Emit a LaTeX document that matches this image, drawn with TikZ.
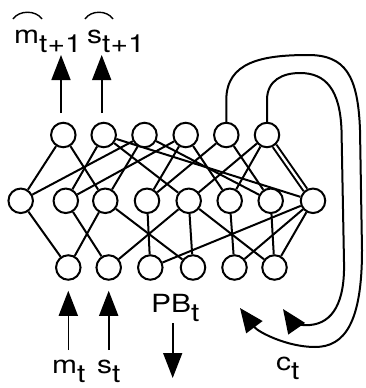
\documentclass[tikz,border=0pt]{standalone}
\usepackage{fontspec}
\setmainfont{TeX Gyre Heros}
\newfontfamily\labelfont[FakeStretch=1.2]{TeX Gyre Heros}
\usetikzlibrary{arrows.meta}
\pgfdeclarelayer{wires}
\pgfsetlayers{wires,main}
\newcommand\subdrop[1]{\raisebox{-9pt}{#1}}

\begin{document}
\begin{tikzpicture}[x=1pt,y=-1pt,
  unit/.style={circle,draw,fill=white,line width=2pt,minimum size=24.5pt,inner sep=0pt},
  link/.style={line width=2pt},
  sig/.style={line width=1.6pt,-{Triangle[length=25pt,width=19pt]}},
  lbl/.style={inner sep=0pt,anchor=base west,font=\labelfont\fontsize{25}{30}\selectfont},
  hatarc/.style={line width=1.4pt}]
\useasboundingbox (0,0) rectangle (366,388);

% output layer
\foreach \n/\x in {1/63.3,2/103.7,3/144.5,4/185.7,5/226.3,6/267}
  \node[unit] (T\n) at (\x,135) {};
% hidden layer
\foreach \n/\x in {1/20.7,2/65.8,3/105.3,4/147,5/188.7,6/229.7,7/270.7,8/313}
  \node[unit] (M\n) at (\x,200.8) {};
% input layer
\foreach \n/\x in {1/68.3,2/108.7,3/150.3,4/193,5/234.5,6/274.5}
  \node[unit] (B\n) at (\x,267.5) {};

% labels
\node[lbl] (mhat) at (14,43) {m\subdrop{t+1}};
\node[lbl] (shat) at (87,43) {s\subdrop{t+1}};
\node[lbl] (mt) at (52,373) {m\subdrop{t}};
\node[lbl] (st) at (97,373) {s\subdrop{t}};
\node[lbl] (pb) at (151,312) {PB\subdrop{t}};
\node[lbl] (ct) at (276,370) {c\subdrop{t}};
\draw[hatarc] (13,19) .. controls (19,10) and (36,10) .. (42,19);
\draw[hatarc] (85,19) .. controls (91,10) and (107,10) .. (113,19);

% free ends of the signal arrows
\coordinate (o1s) at (61,113);  \coordinate (o1e) at (61,55);
\coordinate (o2s) at (101.7,113); \coordinate (o2e) at (101.7,55);
\coordinate (i1s) at (68.3,350);
\coordinate (i2s) at (108.7,350);
\coordinate (pbs) at (172.7,323); \coordinate (pbe) at (172.7,378);

\begin{pgfonlayer}{wires}
  % hidden to output
  \foreach \a/\b in {1/1,1/3,2/2,2/5,2/8,3/1,3/3,3/7,4/2,4/4,4/6,5/4,5/7,6/5,6/6}
    \draw[link] (T\a) -- (M\b);
  \draw[link,double,double distance=2.3pt] (T6) -- (M8);
  % input to hidden
  \foreach \a/\b in {1/1,2/2,3/1,3/4,4/3,5/2,5/4,5/6,6/5,7/6,8/3,8/5,8/6}
    \draw[link] (M\a) -- (B\b);
  % context loops
  \draw[link,-{Triangle[length=24pt,width=20pt]}] (T5.north) -- (226.3,100)
    .. controls (226.3,62) and (262,55) .. (308,55)
    .. controls (345,55) and (358,75) .. (360,130)
    -- (362,250)
    .. controls (362,322) and (345,347) .. (315,347)
    .. controls (287,347) and (258,332) .. (240,308);
  \draw[link,-{Triangle[length=24pt,width=20pt]}] (T6.north) -- (267,100)
    .. controls (267,80) and (283,73) .. (300,73)
    .. controls (326,73) and (340,90) .. (341.5,130)
    -- (344,262)
    .. controls (345,302) and (333,323) .. (310,325)
    .. controls (301,326) and (292,322) .. (283,309);
\end{pgfonlayer}

% signal arrows
\draw[sig] (o1s) -- (o1e);
\draw[sig] (o2s) -- (o2e);
\draw[sig,shorten >=10pt] (i1s) -- (B1);
\draw[sig,shorten >=10pt] (i2s) -- (B2);
\draw[sig] (pbs) -- (pbe);
\end{tikzpicture}
\end{document}
